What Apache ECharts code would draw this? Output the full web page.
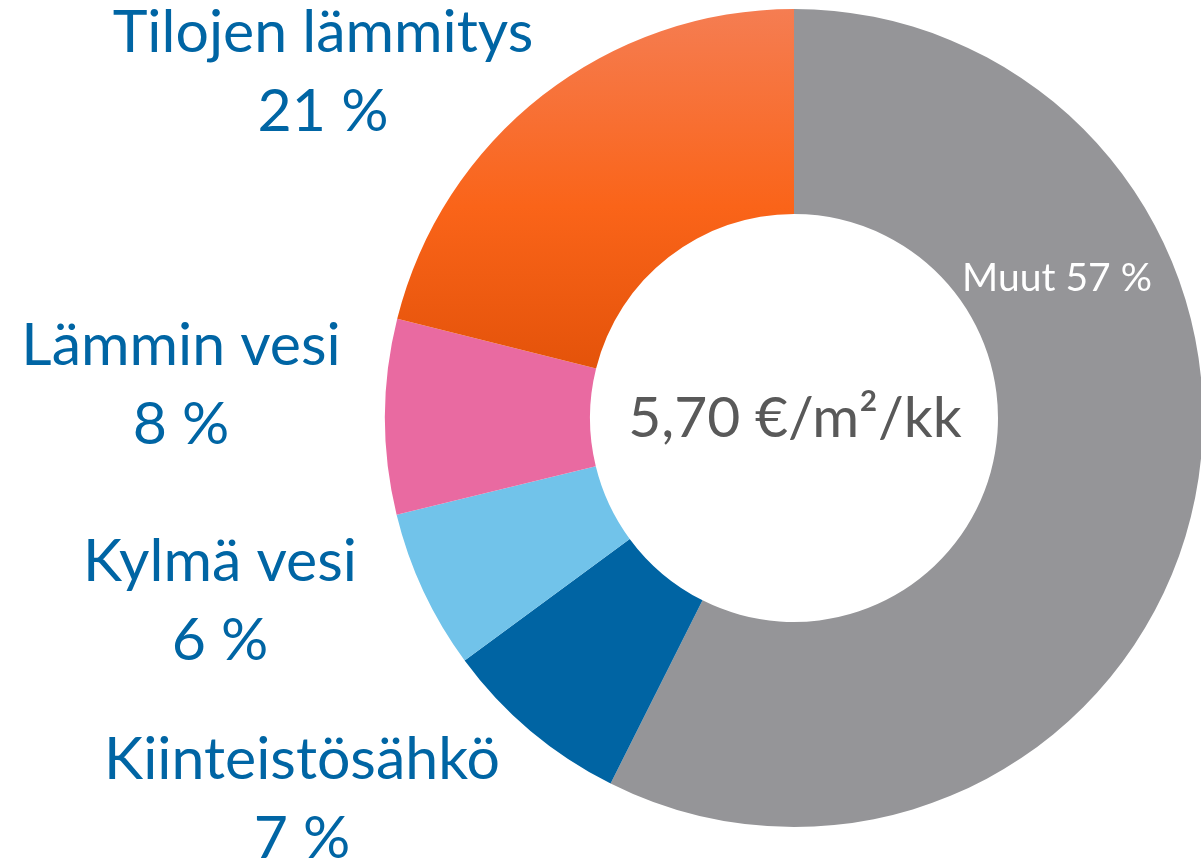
<!DOCTYPE html>
<html>
<head>
<meta charset="utf-8">
<script src="https://cdn.jsdelivr.net/npm/echarts@6/dist/echarts.min.js"></script>
<style>
  html, body { margin: 0; padding: 0; background: #fff; }
  #main { width: 1201px; height: 862px; }
</style>
</head>
<body>
<div id="main"></div>
<script>
// 数据
var names = ['Muut', 'Kiinteistösähkö', 'Kylmä vesi', 'Lämmin vesi', 'Tilojen lämmitys'];
var values = [57.4, 7.5, 6.3, 7.7, 21.1];
var shown = ['57 %', '7 %', '6 %', '8 %', '21 %'];
var centerText = '5,70 €/m²/kk';

// 标签位置 (x, y)
var labelPos = [[1057, 278], [302, 799], [220, 601], [181, 385], [323, 72]];

var FONT = 'Lato';
var BLUE = '#0065a4';

var colors = [
    '#959598',
    '#0064a3',
    '#71c3ea',
    '#e96aa1',
    new echarts.graphic.LinearGradient(0, 0, 0, 1, [
        { offset: 0, color: '#f57d52' },
        { offset: 0.55, color: '#fa6419' },
        { offset: 1, color: '#e4530a' }
    ])
];

var myChart = echarts.init(document.getElementById('main'));

var seriesData = [];
for (var i = 0; i < names.length; i++) {
    seriesData.push({
        value: values[i],
        name: names[i],
        itemStyle: { color: colors[i] }
    });
}

var option = {
    animation: false,
    graphic: [{
        type: 'text',
        x: 795,
        y: 419,
        style: {
            text: centerText,
            fill: '#595959',
            font: '57px ' + FONT,
            align: 'center',
            verticalAlign: 'middle'
        }
    }],
    series: [{
        type: 'pie',
        center: [794, 418],
        radius: [204, 409],
        startAngle: 90,
        clockwise: true,
        avoidLabelOverlap: false,
        itemStyle: { borderWidth: 0 },
        label: {
            show: true,
            position: 'inside',
            fontFamily: FONT,
            fontSize: 59,
            lineHeight: 79,
            color: BLUE,
            align: 'center',
            formatter: function (p) {
                if (p.dataIndex === 0) {
                    return p.name + ' ' + shown[0];
                }
                return p.name + '\n' + shown[p.dataIndex];
            }
        },
        labelLine: { show: false },
        labelLayout: function (params) {
            var pos = labelPos[params.dataIndex];
            return {
                x: pos[0],
                y: pos[1],
                align: 'center',
                verticalAlign: 'middle'
            };
        },
        data: seriesData
    }]
};

// Muut 标签白色小字
option.series[0].data[0].label = { color: '#ffffff', fontSize: 39, lineHeight: 40 };

myChart.setOption(option);
</script>
</body>
</html>
